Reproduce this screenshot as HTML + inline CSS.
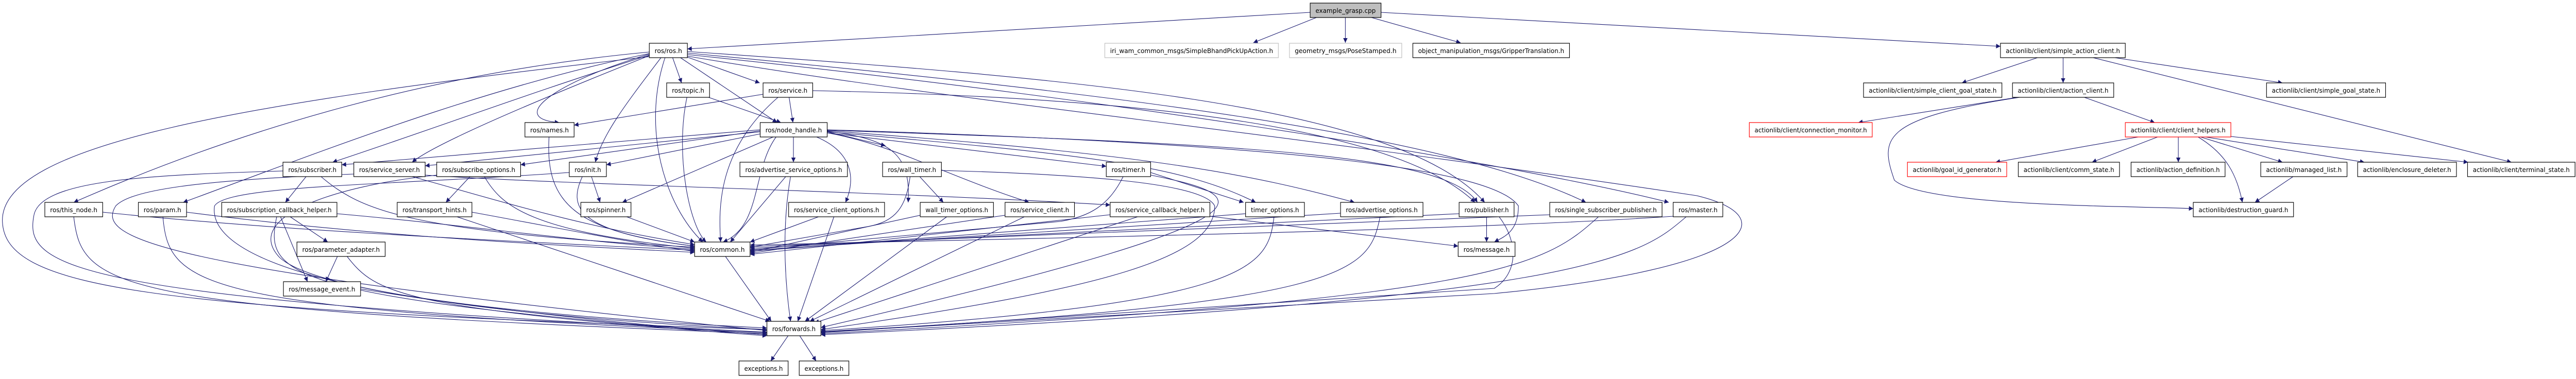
<!DOCTYPE html>
<html><head><meta charset="utf-8"><style>
html,body{margin:0;padding:0;background:#fff;width:100%;height:100%;overflow:hidden;}
svg{display:block;width:100vw;height:100vh;}
text{font-family:"DejaVu Sans","Liberation Sans",sans-serif;font-size:12.5px;fill:#000;}
.e{stroke:#191970;stroke-width:1.1;fill:none;marker-end:url(#a);}
.n{fill:#fff;stroke:#000;stroke-width:1.2;}
.g{fill:#fff;stroke:#bfbfbf;stroke-width:1.2;}
.r{fill:#fff;stroke:#ff0000;stroke-width:1.2;}
</style></head><body>
<svg viewBox="0 0 5344 736" preserveAspectRatio="none" xmlns="http://www.w3.org/2000/svg">
<defs><marker id="a" viewBox="0 0 10 10" refX="10" refY="5" markerWidth="11" markerHeight="9" markerUnits="userSpaceOnUse" orient="auto"><path d="M0,0 L10,5 L0,10 z" fill="#191970"/></marker></defs>
<g>
<path class="e" d="M2718,24 L1426,95"/>
<path class="e" d="M2731,34 L2600,83"/>
<path class="e" d="M2791,34 L2791,83"/>
<path class="e" d="M2845,34 L3030,83"/>
<path class="e" d="M2865,24 L4150,90"/>
<path class="e" d="M1347,101 C900,140 500,250 153,393"/>
<path class="e" d="M1347,104 C1000,170 650,300 380,393"/>
<path class="e" d="M1347,107 C1100,180 900,250 690,315"/>
<path class="e" d="M1347,108 C1100,200 900,280 855,315"/>
<path class="e" d="M1347,105 C1150,160 1050,230 1160,238"/>
<path class="e" d="M1372,111 C1300,200 1250,260 1235,315"/>
<path class="e" d="M1395,111 L1414,161"/>
<path class="e" d="M1426,111 L1576,161"/>
<path class="e" d="M1410,111 L1612,238"/>
<path class="e" d="M1380,111 C1330,250 1380,400 1458,470"/>
<path class="e" d="M1426,100 C2200,150 2900,200 3080,393"/>
<path class="e" d="M1426,103 C2300,180 3000,260 3290,393"/>
<path class="e" d="M1426,106 C2400,200 3200,330 3462,393"/>
<path class="e" d="M1347,110 C500,200 0,280 5,430 C10,560 300,600 1591,640"/>
<path class="e" d="M1426,109 C2000,200 2600,250 3520,380 C3700,420 3650,520 3100,570 L1703,645"/>
<path class="e" d="M1470,189 L1620,238"/>
<path class="e" d="M1425,189 C1400,300 1430,440 1465,470"/>
<path class="e" d="M1637,189 L1645,238"/>
<path class="e" d="M1583,183 L1191,243"/>
<path class="e" d="M1614,189 C1490,290 1490,400 1495,470"/>
<path class="e" d="M1686,176 C2400,190 2900,250 3060,393"/>
<path class="e" d="M1139,266 C1130,400 1200,450 1441,478"/>
<path class="e" d="M1577,254 L1080,320"/>
<path class="e" d="M1577,260 L1258,320"/>
<path class="e" d="M1604,266 L1291,393"/>
<path class="e" d="M1646,266 L1646,315"/>
<path class="e" d="M1694,266 C1780,300 1770,360 1754,393"/>
<path class="e" d="M1716,256 L1837,283"/>
<path class="e" d="M1716,255 C1850,270 1890,300 1884,393"/>
<path class="e" d="M1716,258 C1850,280 1960,340 2135,393"/>
<path class="e" d="M1716,258 L2295,323"/>
<path class="e" d="M1716,256 C2250,300 2450,320 2605,393"/>
<path class="e" d="M1716,254 C2400,300 2600,340 2810,393"/>
<path class="e" d="M1716,253 C2600,280 3000,300 3065,393"/>
<path class="e" d="M1716,252 C2700,280 3100,330 3150,400 C3150,450 3120,460 3100,470"/>
<path class="e" d="M1577,252 L709,320"/>
<path class="e" d="M1577,256 L882,322"/>
<path class="e" d="M1610,266 C1560,330 1580,440 1500,470"/>
<path class="e" d="M635,343 L592,393"/>
<path class="e" d="M587,332 C300,340 80,350 70,420 C50,520 150,580 1591,645"/>
<path class="e" d="M666,343 C750,410 850,450 1441,480"/>
<path class="e" d="M734,338 C400,350 270,370 240,400 C200,460 300,520 1591,642"/>
<path class="e" d="M855,343 C1000,380 1200,440 1441,475"/>
<path class="e" d="M975,343 L925,393"/>
<path class="e" d="M1005,343 C1040,400 1100,450 1441,482"/>
<path class="e" d="M906,340 C700,360 500,420 580,500 C650,560 1000,610 1591,637"/>
<path class="e" d="M1208,343 C1180,400 1190,450 1441,478"/>
<path class="e" d="M1227,343 L1245,393"/>
<path class="e" d="M1181,335 C800,360 470,360 445,400 C430,500 700,600 1591,640"/>
<path class="e" d="M1630,343 L1515,470"/>
<path class="e" d="M1640,343 C1620,450 1630,560 1640,624"/>
<path class="e" d="M1888,343 C1880,400 1860,430 1800,440 L1556,480"/>
<path class="e" d="M1908,343 L1957,393"/>
<path class="e" d="M1953,331 C2300,340 2500,360 2520,400 C2520,500 2300,560 1703,640"/>
<path class="e" d="M2330,343 C2300,400 2260,420 2200,430 L1556,485"/>
<path class="e" d="M2387,335 L2580,393"/>
<path class="e" d="M2387,340 C2600,380 2700,420 1703,636"/>
<path class="e" d="M213,412 C600,450 1100,470 1441,486"/>
<path class="e" d="M153,421 C170,560 230,600 1591,648"/>
<path class="e" d="M387,412 C700,450 1000,470 1441,490"/>
<path class="e" d="M338,421 C350,560 420,600 1591,646"/>
<path class="e" d="M699,415 C1000,440 1200,470 1441,484"/>
<path class="e" d="M602,421 L680,470"/>
<path class="e" d="M582,421 L638,547"/>
<path class="e" d="M574,421 C550,530 570,580 1591,650"/>
<path class="e" d="M700,498 L676,547"/>
<path class="e" d="M720,498 C780,570 830,600 1591,652"/>
<path class="e" d="M748,561 C1000,600 1300,630 1591,650"/>
<path class="e" d="M979,412 C1200,450 1300,470 1441,488"/>
<path class="e" d="M948,421 L1597,624"/>
<path class="e" d="M1300,421 L1441,470"/>
<path class="e" d="M1698,421 L1556,470"/>
<path class="e" d="M1730,421 L1655,624"/>
<path class="e" d="M1909,418 L1556,490"/>
<path class="e" d="M1964,421 L1670,624"/>
<path class="e" d="M2085,418 L1556,492"/>
<path class="e" d="M2125,421 L1680,624"/>
<path class="e" d="M2303,417 L1556,494"/>
<path class="e" d="M2360,421 L1690,627"/>
<path class="e" d="M2584,415 L1556,488"/>
<path class="e" d="M2643,421 C2630,520 2600,590 1703,642"/>
<path class="e" d="M2781,414 L1556,486"/>
<path class="e" d="M2863,421 C2840,530 2800,590 1703,644"/>
<path class="e" d="M3027,415 L1556,482"/>
<path class="e" d="M3084,421 L3084,470"/>
<path class="e" d="M3110,421 C3150,470 3150,530 3100,560 L1703,646"/>
<path class="e" d="M3215,417 L1556,479"/>
<path class="e" d="M3316,421 C3200,520 3100,580 1703,648"/>
<path class="e" d="M3471,420 C3000,450 2000,465 1556,476"/>
<path class="e" d="M3498,421 C3400,500 3300,580 1703,650"/>
<path class="e" d="M2510,420 L3025,478"/>
<path class="e" d="M1505,498 L1600,624"/>
<path class="e" d="M1635,652 L1599,701"/>
<path class="e" d="M1659,652 L1693,701"/>
<path class="e" d="M882,340 C1200,360 1800,370 2303,398"/>
<path class="e" d="M4230,111 L4070,161"/>
<path class="e" d="M4280,111 L4280,161"/>
<path class="e" d="M4380,111 L4735,161"/>
<path class="e" d="M4338,111 L5210,315"/>
<path class="e" d="M4185,189 L3855,238"/>
<path class="e" d="M4324,189 L4470,238"/>
<path class="e" d="M4190,189 C3900,230 3900,270 3930,350 C3990,400 4400,400 4550,405"/>
<path class="e" d="M4436,266 L4140,315"/>
<path class="e" d="M4476,266 L4340,315"/>
<path class="e" d="M4519,266 L4519,315"/>
<path class="e" d="M4565,266 L4735,315"/>
<path class="e" d="M4575,266 L4905,315"/>
<path class="e" d="M4628,265 L5120,315"/>
<path class="e" d="M4560,266 C4620,300 4640,340 4652,393"/>
<path class="e" d="M4757,343 L4678,393"/>
</g>
<g>
<rect x="2718" y="6" width="147" height="28" fill="#bfbfbf" stroke="#000" stroke-width="1.2"/><text x="2791.5" y="25" text-anchor="middle" textLength="125" lengthAdjust="spacingAndGlyphs">example_grasp.cpp</text>
<rect class="n" x="1347" y="84" width="79" height="28"/><text x="1386.5" y="103" text-anchor="middle" textLength="57" lengthAdjust="spacingAndGlyphs">ros/ros.h</text>
<rect class="g" x="2292" y="84" width="360" height="28"/><text x="2472" y="103" text-anchor="middle" textLength="338" lengthAdjust="spacingAndGlyphs">iri_wam_common_msgs/SimpleBhandPickUpAction.h</text>
<rect class="g" x="2675" y="84" width="233" height="28"/><text x="2791.5" y="103" text-anchor="middle" textLength="211" lengthAdjust="spacingAndGlyphs">geometry_msgs/PoseStamped.h</text>
<rect class="n" x="2931" y="84" width="325" height="28"/><text x="3093.5" y="103" text-anchor="middle" textLength="303" lengthAdjust="spacingAndGlyphs">object_manipulation_msgs/GripperTranslation.h</text>
<rect class="n" x="4150" y="84" width="259" height="28"/><text x="4279.5" y="103" text-anchor="middle" textLength="237" lengthAdjust="spacingAndGlyphs">actionlib/client/simple_action_client.h</text>
<rect class="n" x="1383" y="161" width="89" height="28"/><text x="1427.5" y="180" text-anchor="middle" textLength="67" lengthAdjust="spacingAndGlyphs">ros/topic.h</text>
<rect class="n" x="1583" y="161" width="103" height="28"/><text x="1634.5" y="180" text-anchor="middle" textLength="81" lengthAdjust="spacingAndGlyphs">ros/service.h</text>
<rect class="n" x="3866" y="161" width="287" height="28"/><text x="4009.5" y="180" text-anchor="middle" textLength="265" lengthAdjust="spacingAndGlyphs">actionlib/client/simple_client_goal_state.h</text>
<rect class="n" x="4175" y="161" width="210" height="28"/><text x="4280" y="180" text-anchor="middle" textLength="188" lengthAdjust="spacingAndGlyphs">actionlib/client/action_client.h</text>
<rect class="n" x="4702" y="161" width="247" height="28"/><text x="4825.5" y="180" text-anchor="middle" textLength="225" lengthAdjust="spacingAndGlyphs">actionlib/client/simple_goal_state.h</text>
<rect class="n" x="1089" y="238" width="102" height="28"/><text x="1140" y="257" text-anchor="middle" textLength="80" lengthAdjust="spacingAndGlyphs">ros/names.h</text>
<rect class="n" x="1577" y="238" width="139" height="28"/><text x="1646.5" y="257" text-anchor="middle" textLength="117" lengthAdjust="spacingAndGlyphs">ros/node_handle.h</text>
<rect class="r" x="3629" y="238" width="255" height="28"/><text x="3756.5" y="257" text-anchor="middle" textLength="233" lengthAdjust="spacingAndGlyphs">actionlib/client/connection_monitor.h</text>
<rect class="r" x="4409" y="238" width="219" height="28"/><text x="4518.5" y="257" text-anchor="middle" textLength="197" lengthAdjust="spacingAndGlyphs">actionlib/client/client_helpers.h</text>
<rect class="n" x="587" y="315" width="122" height="28"/><text x="648" y="334" text-anchor="middle" textLength="100" lengthAdjust="spacingAndGlyphs">ros/subscriber.h</text>
<rect class="n" x="734" y="315" width="148" height="28"/><text x="808" y="334" text-anchor="middle" textLength="126" lengthAdjust="spacingAndGlyphs">ros/service_server.h</text>
<rect class="n" x="906" y="315" width="174" height="28"/><text x="993" y="334" text-anchor="middle" textLength="152" lengthAdjust="spacingAndGlyphs">ros/subscribe_options.h</text>
<rect class="n" x="1181" y="315" width="77" height="28"/><text x="1219.5" y="334" text-anchor="middle" textLength="55" lengthAdjust="spacingAndGlyphs">ros/init.h</text>
<rect class="n" x="1535" y="315" width="223" height="28"/><text x="1646.5" y="334" text-anchor="middle" textLength="201" lengthAdjust="spacingAndGlyphs">ros/advertise_service_options.h</text>
<rect class="n" x="1831" y="315" width="122" height="28"/><text x="1892" y="334" text-anchor="middle" textLength="100" lengthAdjust="spacingAndGlyphs">ros/wall_timer.h</text>
<rect class="n" x="2295" y="315" width="92" height="28"/><text x="2341" y="334" text-anchor="middle" textLength="70" lengthAdjust="spacingAndGlyphs">ros/timer.h</text>
<rect class="r" x="3957" y="315" width="206" height="28"/><text x="4060" y="334" text-anchor="middle" textLength="184" lengthAdjust="spacingAndGlyphs">actionlib/goal_id_generator.h</text>
<rect class="n" x="4187" y="315" width="210" height="28"/><text x="4292" y="334" text-anchor="middle" textLength="188" lengthAdjust="spacingAndGlyphs">actionlib/client/comm_state.h</text>
<rect class="n" x="4421" y="315" width="195" height="28"/><text x="4518.5" y="334" text-anchor="middle" textLength="173" lengthAdjust="spacingAndGlyphs">actionlib/action_definition.h</text>
<rect class="n" x="4690" y="315" width="179" height="28"/><text x="4779.5" y="334" text-anchor="middle" textLength="157" lengthAdjust="spacingAndGlyphs">actionlib/managed_list.h</text>
<rect class="n" x="4891" y="315" width="205" height="28"/><text x="4993.5" y="334" text-anchor="middle" textLength="183" lengthAdjust="spacingAndGlyphs">actionlib/enclosure_deleter.h</text>
<rect class="n" x="5119" y="315" width="223" height="28"/><text x="5230.5" y="334" text-anchor="middle" textLength="201" lengthAdjust="spacingAndGlyphs">actionlib/client/terminal_state.h</text>
<rect class="n" x="93" y="393" width="120" height="28"/><text x="153" y="412" text-anchor="middle" textLength="98" lengthAdjust="spacingAndGlyphs">ros/this_node.h</text>
<rect class="n" x="287" y="393" width="100" height="28"/><text x="337" y="412" text-anchor="middle" textLength="78" lengthAdjust="spacingAndGlyphs">ros/param.h</text>
<rect class="n" x="460" y="393" width="239" height="28"/><text x="579.5" y="412" text-anchor="middle" textLength="217" lengthAdjust="spacingAndGlyphs">ros/subscription_callback_helper.h</text>
<rect class="n" x="824" y="393" width="155" height="28"/><text x="901.5" y="412" text-anchor="middle" textLength="133" lengthAdjust="spacingAndGlyphs">ros/transport_hints.h</text>
<rect class="n" x="1205" y="393" width="104" height="28"/><text x="1257" y="412" text-anchor="middle" textLength="82" lengthAdjust="spacingAndGlyphs">ros/spinner.h</text>
<rect class="n" x="1636" y="393" width="199" height="28"/><text x="1735.5" y="412" text-anchor="middle" textLength="177" lengthAdjust="spacingAndGlyphs">ros/service_client_options.h</text>
<rect class="n" x="1909" y="393" width="152" height="28"/><text x="1985" y="412" text-anchor="middle" textLength="130" lengthAdjust="spacingAndGlyphs">wall_timer_options.h</text>
<rect class="n" x="2085" y="393" width="144" height="28"/><text x="2157" y="412" text-anchor="middle" textLength="122" lengthAdjust="spacingAndGlyphs">ros/service_client.h</text>
<rect class="n" x="2303" y="393" width="207" height="28"/><text x="2406.5" y="412" text-anchor="middle" textLength="185" lengthAdjust="spacingAndGlyphs">ros/service_callback_helper.h</text>
<rect class="n" x="2584" y="393" width="122" height="28"/><text x="2645" y="412" text-anchor="middle" textLength="100" lengthAdjust="spacingAndGlyphs">timer_options.h</text>
<rect class="n" x="2781" y="393" width="171" height="28"/><text x="2866.5" y="412" text-anchor="middle" textLength="149" lengthAdjust="spacingAndGlyphs">ros/advertise_options.h</text>
<rect class="n" x="3027" y="393" width="114" height="28"/><text x="3084" y="412" text-anchor="middle" textLength="92" lengthAdjust="spacingAndGlyphs">ros/publisher.h</text>
<rect class="n" x="3215" y="393" width="233" height="28"/><text x="3331.5" y="412" text-anchor="middle" textLength="211" lengthAdjust="spacingAndGlyphs">ros/single_subscriber_publisher.h</text>
<rect class="n" x="3471" y="393" width="103" height="28"/><text x="3522.5" y="412" text-anchor="middle" textLength="81" lengthAdjust="spacingAndGlyphs">ros/master.h</text>
<rect class="n" x="4550" y="393" width="208" height="28"/><text x="4654" y="412" text-anchor="middle" textLength="186" lengthAdjust="spacingAndGlyphs">actionlib/destruction_guard.h</text>
<rect class="n" x="616" y="470" width="183" height="28"/><text x="707.5" y="489" text-anchor="middle" textLength="161" lengthAdjust="spacingAndGlyphs">ros/parameter_adapter.h</text>
<rect class="n" x="1441" y="470" width="115" height="28"/><text x="1498.5" y="489" text-anchor="middle" textLength="93" lengthAdjust="spacingAndGlyphs">ros/common.h</text>
<rect class="n" x="3025" y="470" width="118" height="28"/><text x="3084" y="489" text-anchor="middle" textLength="96" lengthAdjust="spacingAndGlyphs">ros/message.h</text>
<rect class="n" x="588" y="547" width="160" height="28"/><text x="668" y="566" text-anchor="middle" textLength="138" lengthAdjust="spacingAndGlyphs">ros/message_event.h</text>
<rect class="n" x="1591" y="624" width="112" height="28"/><text x="1647" y="643" text-anchor="middle" textLength="90" lengthAdjust="spacingAndGlyphs">ros/forwards.h</text>
<rect class="n" x="1533" y="701" width="102" height="28"/><text x="1584" y="720" text-anchor="middle" textLength="80" lengthAdjust="spacingAndGlyphs">exceptions.h</text>
<rect class="n" x="1658" y="701" width="103" height="28"/><text x="1709.5" y="720" text-anchor="middle" textLength="81" lengthAdjust="spacingAndGlyphs">exceptions.h</text>
</g>
</svg>
</body></html>
